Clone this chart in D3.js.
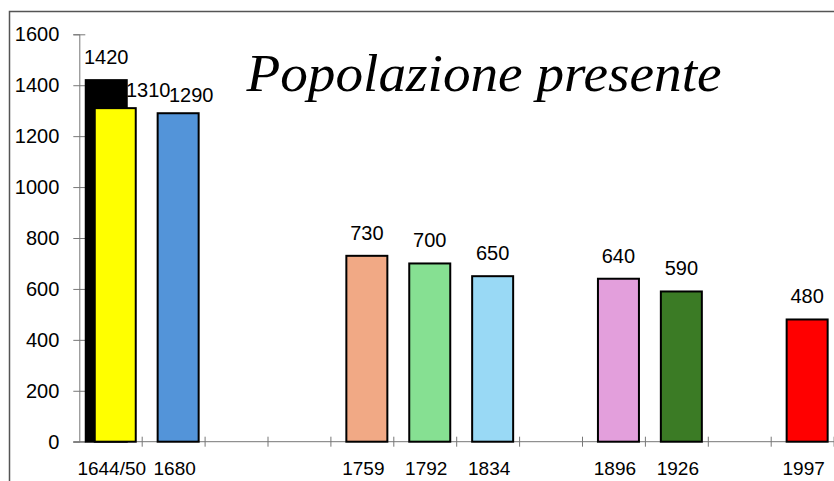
<!DOCTYPE html>
<html>
<head>
<meta charset="utf-8">
<script src="https://cdn.jsdelivr.net/npm/d3@7"></script>
<style>
	body { margin: 0; background: #fff; }
	svg text { font-family: 'Liberation Sans', Arial, sans-serif; fill: #000; }
	.title { font-family: 'Liberation Serif', 'DejaVu Serif', serif !important; font-style: italic; }
</style>
</head>
<body>
<div id="chart"></div>
<script>

// one slot per band, empty strings are the gaps on the axis
var categories = ['1644/50', '1680', '', '', '1759', '1792', '1834', '', '1896', '1926', '', '1997']

// first survey, drawn behind
var backValues = [1420, null, null, null, null, null, null, null, null, null, null, null]

var frontValues = [1310, 1290, null, null, 730, 700, 650, null, 640, 590, null, 480]

var frontColors = ['#ffff00', '#5394d9', null, null, '#f1a985', '#86e092', '#99d9f5', null, '#e39fdc', '#3b7b25', null, '#ff0000']

var yTicks = [0, 200, 400, 600, 800, 1000, 1200, 1400, 1600]

var titleText = 'Popolazione presente'

var settings = {
	'width' : 834,
	'height' : 481,
	'left' : 79.3,
	'right' : 834.1,
	'top' : 34.3,
	'bottom' : 441.7,
	'barW' : 41,
	'shift' : 4.5
}

// labels that were moved by hand in the original so they don't collide
var labelNudge = {
	0 : { 'dx' : 33, 'dy' : 5 },
	1 : { 'dx' : 13, 'dy' : 4.5 }
}

var svg = d3.select('#chart')
	.append('svg')
	.attr('width', settings.width)
	.attr('height', settings.height)

// frame (only top and left edges are visible)
svg.append('path')
	.attr('d', 'M9.5,481 V11.5 H834')
	.attr('fill', 'none')
	.attr('stroke', '#555')
	.attr('stroke-width', 1.5)

var xScale = d3.scaleBand()
	.domain(d3.range(categories.length))
	.range([settings.left, settings.right])

var yScale = d3.scaleLinear()
	.domain([0, 1600])
	.range([settings.bottom, settings.top])

// y axis
var yAxis = svg.append('g')
	.attr('transform', 'translate(' + settings.left + ',0)')
	.call(d3.axisLeft(yScale).tickValues(yTicks).tickFormat(d3.format('d')).tickSize(6).tickPadding(13))

yAxis.select('.domain').attr('stroke', '#777')
yAxis.selectAll('.tick line').attr('x2', 6).attr('x1', -6).attr('stroke', '#777')
yAxis.selectAll('.tick text')
	.style('font-size', '20px')
	.attr('x', -20)

// x axis: line, boundary ticks, centred labels
var xAxis = svg.append('g')
	.attr('transform', 'translate(0,' + settings.bottom + ')')

xAxis.append('line')
	.attr('x1', settings.left - 6)
	.attr('x2', settings.width)
	.attr('stroke', '#777')

xAxis.selectAll('.xtick')
	.data(d3.range(categories.length))
	.enter()
	.append('line')
	.attr('class', 'xtick')
	.attr('x1', function(d) { return xScale(d) + xScale.bandwidth() })
	.attr('x2', function(d) { return xScale(d) + xScale.bandwidth() })
	.attr('y1', -5)
	.attr('y2', 5)
	.attr('stroke', '#777')

xAxis.selectAll('.xlabel')
	.data(categories)
	.enter()
	.append('text')
	.attr('class', 'xlabel')
	.attr('x', function(d, i) { return xScale(i) + xScale.bandwidth() / 2 + 1 })
	.attr('y', 33)
	.attr('text-anchor', 'middle')
	.style('font-size', '19px')
	.text(function(d) { return d })

var barX = function(i, offset) {
	return xScale(i) + xScale.bandwidth() / 2 + offset - settings.barW / 2
}

var drawSeries = function(values, offset, colorFn, cls) {

	var g = svg.append('g').attr('class', cls)

	var items = values.map(function(v, i) { return { 'v' : v, 'i' : i } })
		.filter(function(d) { return d.v != null })

	g.selectAll('rect')
		.data(items)
		.enter()
		.append('rect')
		.attr('x', function(d) { return barX(d.i, offset) })
		.attr('y', function(d) { return yScale(d.v) })
		.attr('width', settings.barW)
		.attr('height', function(d) { return settings.bottom - yScale(d.v) })
		.attr('fill', colorFn)
		.attr('stroke', '#000')
		.attr('stroke-width', 2)

	return items
}

var backItems = drawSeries(backValues, -settings.shift, function() { return '#000' }, 'back')
var frontItems = drawSeries(frontValues, settings.shift, function(d) { return frontColors[d.i] }, 'front')

var labels = svg.append('g').attr('class', 'labels')

labels.selectAll('.lab-back')
	.data(backItems)
	.enter()
	.append('text')
	.attr('x', function(d) { return barX(d.i, -settings.shift) + settings.barW / 2 })
	.attr('y', function(d) { return yScale(d.v) - 16 })
	.attr('text-anchor', 'middle')
	.style('font-size', '20px')
	.text(function(d) { return d.v })

labels.selectAll('.lab-front')
	.data(frontItems)
	.enter()
	.append('text')
	.attr('x', function(d) {
		var n = labelNudge[d.i] ? labelNudge[d.i].dx : 0
		return barX(d.i, settings.shift) + settings.barW / 2 + n
	})
	.attr('y', function(d) {
		var n = labelNudge[d.i] ? labelNudge[d.i].dy : 0
		return yScale(d.v) - 16 + n
	})
	.attr('text-anchor', 'middle')
	.style('font-size', '20px')
	.text(function(d) { return d.v })

// title
svg.append('text')
	.attr('class', 'title')
	.attr('x', 484)
	.attr('y', 91)
	.attr('text-anchor', 'middle')
	.attr('textLength', 475)
	.attr('lengthAdjust', 'spacingAndGlyphs')
	.style('font-size', '52px')
	.text(titleText)

</script>
</body>
</html>
